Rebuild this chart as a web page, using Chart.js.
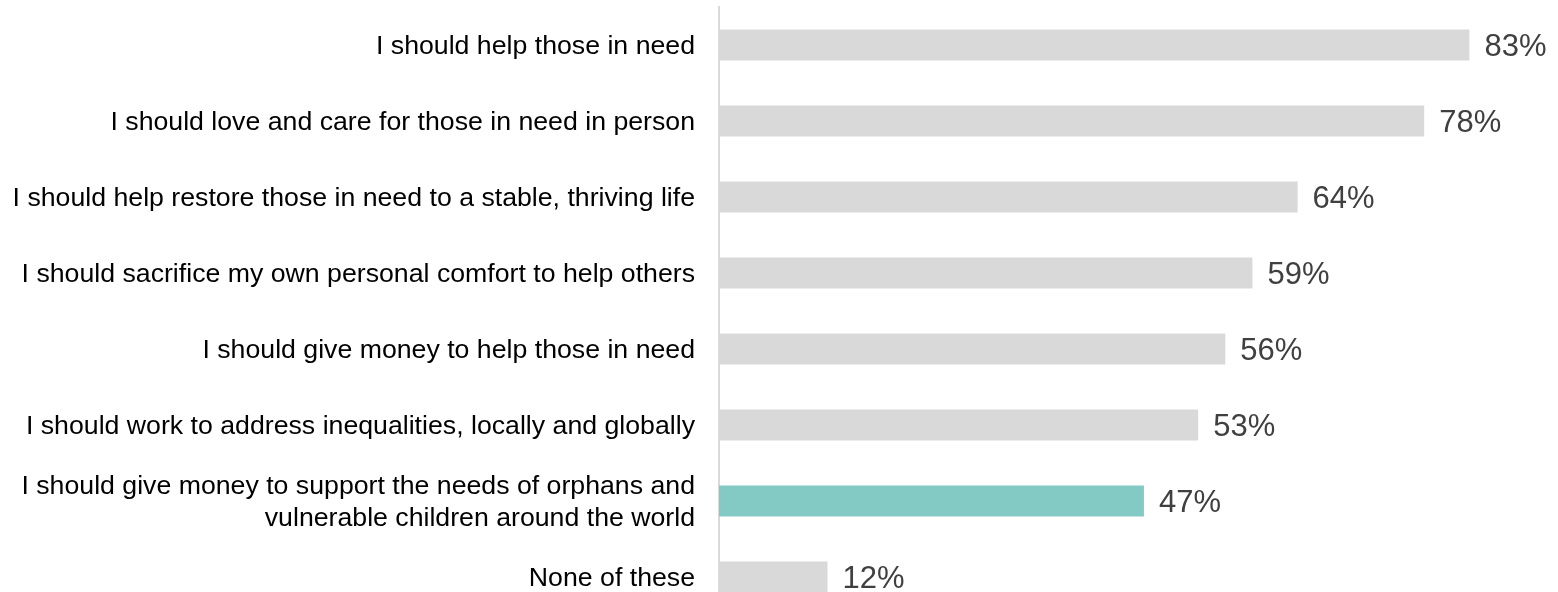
<!DOCTYPE html>
<html>
<head>
<meta charset="utf-8">
<script src="https://cdn.jsdelivr.net/npm/chart.js@4/dist/chart.umd.min.js"></script>
<style>
  html, body { margin: 0; padding: 0; background: #fff; overflow: hidden; }
  #wrap { width: 1558px; height: 615px; }
</style>
</head>
<body>
<div id="wrap"><canvas id="beliefs" width="1558" height="615"></canvas></div>
<script>
var labels = [
  "I should help those in need",
  "I should love and care for those in need in person",
  "I should help restore those in need to a stable, thriving life",
  "I should sacrifice my own personal comfort to help others",
  "I should give money to help those in need",
  "I should work to address inequalities, locally and globally",
  ["I should give money to support the needs of orphans and", "vulnerable children around the world"],
  "None of these"
];
var percents = [83, 78, 64, 59, 56, 53, 47, 12];
var highlighted = 6; // orphans question

// draws the "83%" text at the end of each bar
var valueLabels = {
  id: "valueLabels",
  afterDatasetsDraw: function (chart) {
    var ctx = chart.ctx;
    var meta = chart.getDatasetMeta(0);
    ctx.save();
    ctx.font = "31px 'Liberation Sans', Arial, sans-serif";
    ctx.fillStyle = "#404040";
    ctx.textAlign = "left";
    ctx.textBaseline = "middle";
    meta.data.forEach(function (bar, i) {
      ctx.fillText(percents[i] + "%", bar.x + 15, bar.y + 2);
    });
    ctx.restore();
  }
};

var ctx = document.getElementById("beliefs");
var myChart = new Chart(ctx, {
  type: "bar",
  data: {
    labels: labels,
    datasets: [{
      data: percents,
      backgroundColor: function (c) {
        return c.dataIndex === highlighted ? "#82cac3" : "#d9d9d9";
      },
      borderWidth: 0,
      categoryPercentage: 1,
      barPercentage: 0.41
    }]
  },
  options: {
    indexAxis: "y",
    responsive: false,
    animation: false,
    layout: { padding: { top: 7, right: 0, bottom: 0, left: 0 } },
    plugins: {
      legend: { display: false },
      tooltip: { enabled: false }
    },
    scales: {
      x: {
        display: false,
        min: 0,
        max: 92.8
      },
      y: {
        grid: { display: false, drawTicks: false },
        border: { display: true, color: "#d9d9d9", width: 2 },
        ticks: {
          color: "#000000",
          padding: 24,
          labelOffset: 2,
          font: { family: "'Liberation Sans', Arial, sans-serif", size: 26.7, lineHeight: 1.2 }
        },
        afterFit: function (scale) {
          scale.width = 719;
          scale.paddingTop = 0;
          scale.paddingBottom = 0;
        }
      }
    }
  },
  plugins: [valueLabels]
});
</script>
</body>
</html>
